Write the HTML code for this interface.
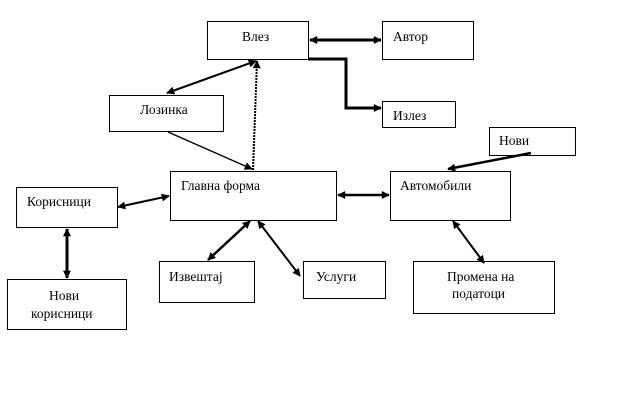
<!DOCTYPE html>
<html><head><meta charset="utf-8"><style>
body{margin:0;background:#fff;width:628px;height:400px;overflow:hidden}
svg text{font-family:"Liberation Serif",serif;font-size:13.5px;fill:#000}
</style></head><body>
<svg width="628" height="400" xmlns="http://www.w3.org/2000/svg">
<defs>
<marker id="b" viewBox="0 0 10 10" refX="9" refY="5" markerWidth="10" markerHeight="8" orient="auto-start-reverse" markerUnits="userSpaceOnUse"><path d="M0,0L10,5L0,10z"/></marker>
</defs>
<g fill="#fff" stroke="#000" stroke-width="1">
<rect x="207.5" y="21.5" width="101" height="38"/>
<rect x="382.5" y="21.5" width="91" height="38"/>
<rect x="109.5" y="95.5" width="114" height="36"/>
<rect x="382.5" y="101.5" width="73" height="26"/>
<rect x="489.5" y="127.5" width="86" height="28"/>
<rect x="170.5" y="171.5" width="166" height="49"/>
<rect x="390.5" y="171.5" width="120" height="49"/>
<rect x="16.5" y="187.5" width="101" height="40"/>
<rect x="7.5" y="279.5" width="119" height="50"/>
<rect x="159.5" y="261.5" width="95" height="41"/>
<rect x="303.5" y="261.5" width="82" height="37"/>
<rect x="413.5" y="261.5" width="141" height="52"/>
</g>
<g stroke="#000" fill="none">
<line x1="310" y1="40" x2="381" y2="40" stroke-width="3" marker-start="url(#b)" marker-end="url(#b)"/>
<polyline points="308,59 346,59 346,108 381,108" stroke-width="3" marker-end="url(#b)"/>
<line x1="167" y1="93" x2="256" y2="61" stroke-width="2" marker-start="url(#b)" marker-end="url(#b)"/>
<line x1="168" y1="132" x2="252" y2="169" stroke-width="1.5" marker-end="url(#b)"/>
<line x1="253" y1="170" x2="257" y2="61" stroke-width="2" stroke-dasharray="2,1" marker-end="url(#b)"/>
<line x1="118" y1="207" x2="169" y2="196" stroke-width="2" marker-start="url(#b)" marker-end="url(#b)"/>
<line x1="338" y1="195" x2="389" y2="195" stroke-width="2.5" marker-start="url(#b)" marker-end="url(#b)"/>
<line x1="448" y1="169" x2="531" y2="153" stroke-width="2.5" marker-start="url(#b)"/>
<line x1="67" y1="229" x2="67" y2="278" stroke-width="3" marker-start="url(#b)" marker-end="url(#b)"/>
<line x1="250" y1="221" x2="208" y2="260" stroke-width="2.5" marker-start="url(#b)" marker-end="url(#b)"/>
<line x1="258" y1="221" x2="300" y2="276" stroke-width="2" marker-start="url(#b)" marker-end="url(#b)"/>
<line x1="453" y1="221" x2="484" y2="263" stroke-width="2" marker-start="url(#b)" marker-end="url(#b)"/>
</g>
<text x="242" y="41">Влез</text>
<text x="393" y="41">Автор</text>
<text x="140" y="114">Лозинка</text>
<text x="393" y="120">Излез</text>
<text x="499" y="145">Нови</text>
<text x="181" y="190">Главна форма</text>
<text x="400" y="190">Автомобили</text>
<text x="27" y="206">Корисници</text>
<text x="49" y="300">Нови</text>
<text x="31" y="318">корисници</text>
<text x="169" y="281">Извештај</text>
<text x="316" y="281">Услуги</text>
<text x="447" y="281">Промена на</text>
<text x="452" y="298">податоци</text>
</svg>
</body></html>
